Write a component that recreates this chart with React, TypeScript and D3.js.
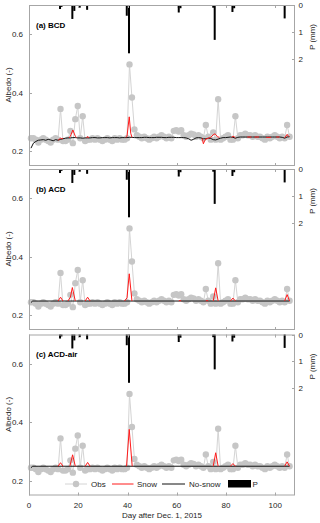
import React, { useEffect, useRef } from "react";
import * as d3 from "d3";

// observed albedo, one value per day starting at day 0.8
const obsStart = 0.8;
const obsAlbedo = [
  0.245, 0.245, 0.24, 0.23, 0.24, 0.245, 0.24, 0.235, 0.23, 0.24,
  0.245, 0.24, 0.345, 0.235, 0.235, 0.24, 0.27, 0.228, 0.31, 0.355,
  0.245, 0.32, 0.235, 0.24, 0.24, 0.245, 0.24, 0.245, 0.24, 0.235,
  0.24, 0.245, 0.24, 0.235, 0.245, 0.24, 0.245, 0.24, 0.24, 0.245,
  0.497, 0.384, 0.275, 0.255, 0.25, 0.245, 0.25, 0.245, 0.24, 0.245,
  0.25, 0.245, 0.25, 0.255, 0.25, 0.245, 0.25, 0.245, 0.27, 0.272,
  0.268, 0.272, 0.255, 0.25, 0.255, 0.26, 0.258, 0.25, 0.255, 0.25,
  0.245, 0.29, 0.25, 0.24, 0.265, 0.24, 0.378, 0.24, 0.245, 0.25,
  0.255, 0.24, 0.24, 0.32, 0.245, 0.255, 0.255, 0.26, 0.255, 0.255,
  0.25, 0.255, 0.25, 0.25, 0.245, 0.24, 0.25, 0.245, 0.25, 0.255,
  0.25, 0.245, 0.25, 0.245, 0.29, 0.25
];

// BCD no-snow model, same daily grid as obs
const noSnowA = [
  0.211, 0.228, 0.234, 0.238, 0.239, 0.24, 0.238, 0.241, 0.239, 0.236,
  0.24, 0.238, 0.241, 0.243, 0.245, 0.246, 0.246, 0.247, 0.247, 0.246,
  0.246, 0.245, 0.246, 0.246, 0.246, 0.247, 0.247, 0.246, 0.246, 0.247,
  0.247, 0.247, 0.246, 0.247, 0.247, 0.247, 0.246, 0.247, 0.247, 0.247,
  0.248, 0.248, 0.247, 0.247, 0.247, 0.247, 0.248, 0.248, 0.247, 0.247,
  0.247, 0.248, 0.248, 0.248, 0.247, 0.247, 0.248, 0.248, 0.248, 0.247,
  0.247, 0.247, 0.247, 0.246, 0.243, 0.238, 0.241, 0.246, 0.247, 0.246,
  0.243, 0.243, 0.245, 0.244, 0.24, 0.239, 0.242, 0.245, 0.247, 0.247,
  0.248, 0.249, 0.248, 0.245, 0.248, 0.249, 0.249, 0.249, 0.249, 0.249,
  0.249, 0.249, 0.249, 0.249, 0.249, 0.249, 0.249, 0.249, 0.249, 0.249,
  0.249, 0.249, 0.248, 0.245, 0.249, 0.25
];

type Seg = [number, number][];

const snowA: Seg[] = [
  [[11.8, 0.238], [12.8, 0.245], [13.3, 0.243], [13.8, 0.245]],
  [[16.3, 0.246], [16.8, 0.252], [17.8, 0.273], [18.8, 0.252], [19.3, 0.247]],
  [[23.3, 0.246], [23.8, 0.251], [24.3, 0.246]],
  [[39.3, 0.247], [39.8, 0.252], [40.7, 0.318], [41.3, 0.262], [41.8, 0.248]],
  [[70.3, 0.245], [70.8, 0.226], [71.3, 0.236], [71.8, 0.242], [72.8, 0.245], [73.8, 0.248],
   [74.3, 0.252], [74.8, 0.257], [75.5, 0.26], [76.0, 0.256], [76.5, 0.25], [77.3, 0.248]],
  [[82.3, 0.247], [82.8, 0.252], [83.3, 0.25], [83.8, 0.246]],
  [[88.6, 0.249], [90.3, 0.249]],
  [[91.6, 0.249], [93.4, 0.249]],
  [[96.3, 0.248], [98.3, 0.248]],
  [[100.4, 0.249], [101.7, 0.249]],
  [[103.8, 0.246], [104.8, 0.258], [105.5, 0.25]]
];

const noSnowB: Seg = [[0.8, 0.244], [1.5, 0.249], [105.8, 0.249]];
const snowB: Seg[] = [
  [[11.8, 0.249], [12.8, 0.262], [13.8, 0.249]],
  [[15.8, 0.249], [16.8, 0.262], [17.6, 0.295], [18.8, 0.249]],
  [[22.8, 0.249], [23.8, 0.262], [24.8, 0.249]],
  [[38.8, 0.249], [39.8, 0.26], [40.7, 0.342], [41.8, 0.249]],
  [[60.8, 0.249], [61.3, 0.251], [61.8, 0.249]],
  [[71.8, 0.249], [72.3, 0.251], [72.8, 0.249]],
  [[74.8, 0.249], [75.8, 0.294], [76.8, 0.249]],
  [[81.8, 0.249], [82.8, 0.259], [83.8, 0.249]],
  [[103.8, 0.249], [104.8, 0.271], [105.8, 0.249]]
];

const noSnowC: Seg = [[0.8, 0.245], [1.5, 0.25], [105.8, 0.25]];
const snowC: Seg[] = [
  [[11.8, 0.25], [12.8, 0.262], [13.8, 0.25]],
  [[16.6, 0.25], [17.7, 0.289], [18.8, 0.25]],
  [[22.8, 0.25], [23.8, 0.263], [24.8, 0.25]],
  [[39.6, 0.25], [40.7, 0.376], [41.9, 0.25]],
  [[74.8, 0.25], [75.8, 0.296], [76.8, 0.25]],
  [[81.8, 0.25], [82.8, 0.259], [83.8, 0.25]],
  [[103.8, 0.25], [104.8, 0.265], [105.8, 0.25]]
];

// precipitation (mm) hanging from the top axis
const precipDays = [12.6, 13.2, 17.6, 18.4, 20.6, 23.6, 39.7, 40.6, 60.8, 61.5, 74.8, 75.4, 82.6, 83.3, 103.8];
const precipMm = [0.15, 0.07, 0.52, 0.22, 0.1, 0.18, 0.4, 1.8, 0.28, 0.12, 0.1, 1.3, 0.26, 0.12, 0.5];

const panelNames = ["(a) BCD", "(b) ACD", "(c) ACD-air"];
const xTicks = [0, 20, 40, 60, 80, 100];
const yTicks = [0.2, 0.4, 0.6];
const pTicks = [0, 1, 2];

const FONT = "'Liberation Sans', Arial, sans-serif";

const App = () => {
  const svgRef = useRef<SVGSVGElement>(null);

  useEffect(() => {
    const width = 320;
    const height = 523;
    const svg = d3.select(svgRef.current)
      .attr("width", width)
      .attr("height", height)
      .style("font-family", FONT);
    svg.selectAll("*").remove();

    const x = d3.scaleLinear().domain([0, 108]).range([29, 295]);
    const tops = [5, 169, 334.5];
    const ph = 161;
    const axisCol = "#a6a6a6";
    const textCol = "#262626";

    const obs: Seg = obsAlbedo.map((v, i) => [obsStart + i, v]);
    const blackA: Seg = noSnowA.map((v, i) => [obsStart + i, v]);
    const models = [
      { black: blackA, red: snowA },
      { black: noSnowB, red: snowB },
      { black: noSnowC, red: snowC }
    ];

    tops.forEach((top, pi) => {
      const bottom = top + ph;
      const y = d3.scaleLinear().domain([0.15, 0.7]).range([bottom, top]);
      const yp = d3.scaleLinear().domain([0, 6]).range([top, bottom]);
      const g = svg.append("g");

      const line = d3.line<[number, number]>()
        .x(d => x(d[0]))
        .y(d => y(d[1]));

      // obs
      g.append("path")
        .attr("d", line(obs))
        .attr("fill", "none")
        .attr("stroke", "#d4d4d4")
        .attr("stroke-width", 1);
      g.selectAll(".obs")
        .data(obs)
        .enter()
        .append("circle")
        .attr("cx", d => x(d[0]))
        .attr("cy", d => y(d[1]))
        .attr("r", 3.2)
        .attr("fill", "#c6c6c6");

      // models
      g.append("path")
        .attr("d", line(models[pi].black))
        .attr("fill", "none")
        .attr("stroke", "#111")
        .attr("stroke-width", 1);
      models[pi].red.forEach(seg => {
        g.append("path")
          .attr("d", line(seg))
          .attr("fill", "none")
          .attr("stroke", "#ff1a1a")
          .attr("stroke-width", 1);
      });

      // precipitation bars
      g.selectAll(".bar")
        .data(precipDays)
        .enter()
        .append("rect")
        .attr("x", d => x(d) - 1)
        .attr("y", yp(0))
        .attr("width", 2)
        .attr("height", (d, i) => yp(precipMm[i]) - yp(0))
        .attr("fill", "#000");

      // box
      g.append("rect")
        .attr("x", x(0) + 0.5)
        .attr("y", top + 0.5)
        .attr("width", x(108) - x(0) - 1)
        .attr("height", ph - 1)
        .attr("fill", "none")
        .attr("stroke", axisCol)
        .attr("stroke-width", 1);

      // x ticks (bottom and top, inward)
      xTicks.forEach(t => {
        const xx = Math.round(x(t)) + 0.5;
        g.append("line").attr("x1", xx).attr("x2", xx).attr("y1", bottom).attr("y2", bottom - 3)
          .attr("stroke", axisCol);
        g.append("line").attr("x1", xx).attr("x2", xx).attr("y1", top).attr("y2", top + 3)
          .attr("stroke", axisCol);
      });

      // left ticks
      yTicks.forEach(t => {
        const yy = Math.round(y(t)) + 0.5;
        g.append("line").attr("x1", x(0)).attr("x2", x(0) + 3).attr("y1", yy).attr("y2", yy)
          .attr("stroke", axisCol);
        g.append("text")
          .attr("x", x(0) - 6)
          .attr("y", yy)
          .attr("dy", "0.35em")
          .attr("text-anchor", "end")
          .attr("font-size", 8)
          .attr("fill", textCol)
          .text(d3.format(".1f")(t));
      });

      // right ticks
      pTicks.forEach(t => {
        const yy = Math.round(yp(t)) + 0.5;
        g.append("line").attr("x1", x(108)).attr("x2", x(108) - 3).attr("y1", yy).attr("y2", yy)
          .attr("stroke", axisCol);
        g.append("text")
          .attr("x", x(108) + 3.5)
          .attr("y", yy)
          .attr("dy", "0.35em")
          .attr("font-size", 8)
          .attr("fill", textCol)
          .text(t);
      });

      // axis labels
      g.append("text")
        .attr("transform", `translate(10.5,${top + 80}) rotate(-90)`)
        .attr("text-anchor", "middle")
        .attr("font-size", 8)
        .attr("fill", textCol)
        .text("Albedo (-)");
      g.append("text")
        .attr("transform", `translate(314.5,${top + 32}) rotate(-90)`)
        .attr("text-anchor", "middle")
        .attr("font-size", 8)
        .attr("fill", textCol)
        .text("P (mm)");

      g.append("text")
        .attr("x", 36)
        .attr("y", top + 22.5)
        .attr("font-size", 8)
        .attr("font-weight", "bold")
        .attr("fill", "#000")
        .text(panelNames[pi]);

      if (pi === 2) {
        xTicks.forEach(t => {
          g.append("text")
            .attr("x", x(t))
            .attr("y", bottom + 12.5)
            .attr("text-anchor", "middle")
            .attr("font-size", 8)
            .attr("fill", textCol)
            .text(t);
        });
        g.append("text")
          .attr("x", (x(0) + x(108)) / 2)
          .attr("y", bottom + 22.5)
          .attr("text-anchor", "middle")
          .attr("font-size", 8)
          .attr("fill", textCol)
          .text("Day after Dec. 1, 2015");

        // legend
        const ly = 484;
        const lg = g.append("g").attr("font-size", 8).attr("fill", textCol);
        lg.append("line").attr("x1", 65).attr("x2", 87).attr("y1", ly).attr("y2", ly)
          .attr("stroke", "#d4d4d4");
        lg.append("circle").attr("cx", 76).attr("cy", ly).attr("r", 3.2).attr("fill", "#c6c6c6");
        lg.append("text").attr("x", 91).attr("y", ly).attr("dy", "0.35em").text("Obs");
        lg.append("line").attr("x1", 112).attr("x2", 133.5).attr("y1", ly).attr("y2", ly)
          .attr("stroke", "#ff1a1a");
        lg.append("text").attr("x", 137).attr("y", ly).attr("dy", "0.35em").text("Snow");
        lg.append("line").attr("x1", 162).attr("x2", 185).attr("y1", ly).attr("y2", ly)
          .attr("stroke", "#111");
        lg.append("text").attr("x", 189).attr("y", ly).attr("dy", "0.35em").text("No-snow");
        lg.append("rect").attr("x", 228).attr("y", ly - 4).attr("width", 23).attr("height", 7.5)
          .attr("fill", "#000");
        lg.append("text").attr("x", 252.5).attr("y", ly).attr("dy", "0.35em").text("P");
      }
    });
  }, []);

  return (
    <div style={{ position: "fixed", left: 0, top: 0, background: "#fff" }}>
      <svg ref={svgRef}></svg>
    </div>
  );
};

export default App;
